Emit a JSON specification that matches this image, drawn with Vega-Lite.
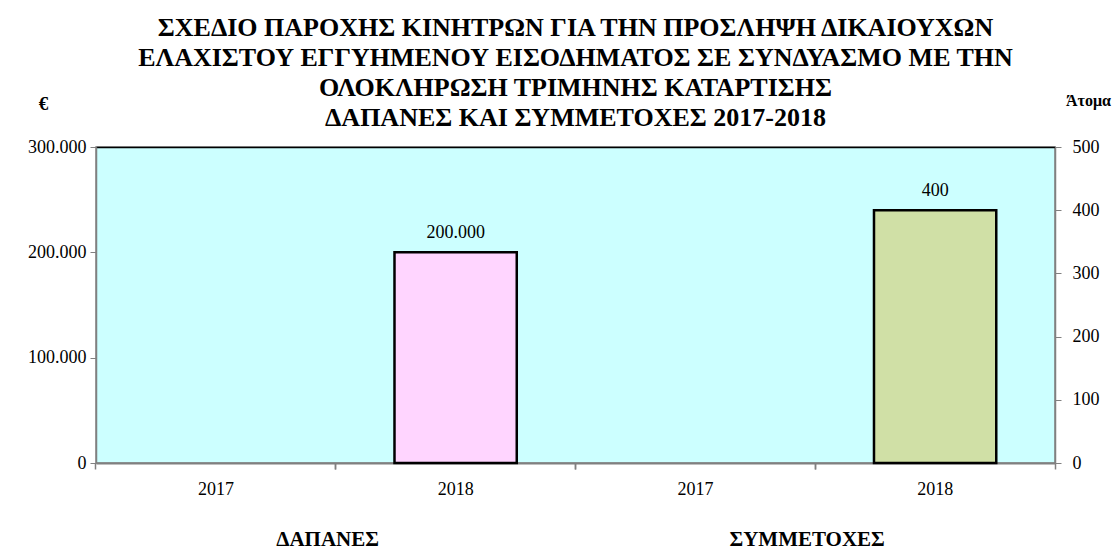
{
  "$schema": "https://vega.github.io/schema/vega-lite/v6.json",
  "width": 959,
  "height": 316,
  "autosize": "none",
  "padding": {"left": 96, "top": 147, "right": 61, "bottom": 86},
  "background": "#ffffff",
  "title": {
    "text": ["ΣΧΕΔΙΟ ΠΑΡΟΧΗΣ ΚΙΝΗΤΡΩΝ ΓΙΑ ΤΗΝ ΠΡΟΣΛΗΨΗ ΔΙΚΑΙΟΥΧΩΝ", "ΕΛΑΧΙΣΤΟΥ ΕΓΓΥΗΜΕΝΟΥ ΕΙΣΟΔΗΜΑΤΟΣ ΣΕ ΣΥΝΔΥΑΣΜΟ ΜΕ ΤΗΝ", "ΟΛΟΚΛΗΡΩΣΗ ΤΡΙΜΗΝΗΣ ΚΑΤΑΡΤΙΣΗΣ", "ΔΑΠΑΝΕΣ ΚΑΙ ΣΥΜΜΕΤΟΧΕΣ 2017-2018"],
    "font": "Liberation Serif",
    "fontSize": 26,
    "fontWeight": "bold",
    "color": "#000000",
    "lineHeight": 30,
    "anchor": "middle",
    "offset": -39
  },
  "data": {
    "values": [
      {"cat": "ΔΑΠΑΝΕΣ 2017", "group": "ΔΑΠΑΝΕΣ", "year": "2017", "expenses": null, "participants": null},
      {"cat": "ΔΑΠΑΝΕΣ 2018", "group": "ΔΑΠΑΝΕΣ", "year": "2018", "expenses": 200000, "participants": null},
      {"cat": "ΣΥΜΜΕΤΟΧΕΣ 2017", "group": "ΣΥΜΜΕΤΟΧΕΣ", "year": "2017", "expenses": null, "participants": null},
      {"cat": "ΣΥΜΜΕΤΟΧΕΣ 2018", "group": "ΣΥΜΜΕΤΟΧΕΣ", "year": "2018", "expenses": null, "participants": 400}
    ]
  },
  "layer": [
    {
      "mark": {"type": "bar", "color": "#FFD5FF", "stroke": "#000000", "strokeWidth": 2.5},
      "encoding": {
        "x": {
          "field": "cat",
          "type": "nominal",
          "sort": null,
          "scale": {"domain": ["ΔΑΠΑΝΕΣ 2017", "ΔΑΠΑΝΕΣ 2018", "ΣΥΜΜΕΤΟΧΕΣ 2017", "ΣΥΜΜΕΤΟΧΕΣ 2018"], "paddingInner": 0.49, "paddingOuter": 0.245},
          "axis": {
            "orient": "bottom",
            "title": null,
            "labelExpr": "slice(datum.value, -4)",
            "labelAngle": 0,
            "ticks": false,
            "domainColor": "#808080",
            "domainWidth": 2,
            "labelPadding": 17,
            "labelFontSize": 18,
            "labelFont": "Liberation Serif",
            "labelColor": "#000000"
          }
        },
        "y": {
          "field": "expenses",
          "type": "quantitative",
          "scale": {"domain": [0, 300000], "nice": false},
          "axis": {
            "orient": "left",
            "values": [0, 100000, 200000, 300000],
            "labelExpr": "replace(format(datum.value, ','), ',', '.')",
            "grid": false,
            "title": "€",
            "titleAngle": 0,
            "titleX": -53,
            "titleY": -44,
            "titleAlign": "center",
            "titleBaseline": "middle",
            "titleFont": "Liberation Serif",
            "titleFontSize": 19,
            "titleFontWeight": "bold",
            "titleColor": "#000000",
            "tickSize": 6,
            "tickColor": "#808080",
            "domainColor": "#808080",
            "domainWidth": 1.5,
            "labelPadding": 4,
            "labelFontSize": 18,
            "labelFont": "Liberation Serif",
            "labelColor": "#000000"
          }
        }
      }
    },
    {
      "transform": [{"filter": "datum.expenses > 0"}, {"calculate": "replace(format(datum.expenses, ','), ',', '.')", "as": "label"}],
      "mark": {"type": "text", "dy": -19, "font": "Liberation Serif", "fontSize": 18, "color": "#000000"},
      "encoding": {
        "x": {
          "field": "cat",
          "type": "nominal",
          "sort": null,
          "scale": {"domain": ["ΔΑΠΑΝΕΣ 2017", "ΔΑΠΑΝΕΣ 2018", "ΣΥΜΜΕΤΟΧΕΣ 2017", "ΣΥΜΜΕΤΟΧΕΣ 2018"], "paddingInner": 0.49, "paddingOuter": 0.245},
          "axis": {
            "orient": "bottom",
            "title": null,
            "bandPosition": -0.4804,
            "labelExpr": "indexof(datum.value, '2018') >= 0 ? split(datum.value, ' ')[0] : ''",
            "labelAngle": 0,
            "labelOffset": -128,
            "domain": false,
            "ticks": true,
            "tickSize": 6,
            "tickColor": "#808080",
            "tickWidth": 1.5,
            "labelPadding": 59,
            "labelFontSize": 21,
            "labelFontWeight": "bold",
            "labelFont": "Liberation Serif",
            "labelColor": "#000000"
          }
        },
        "y": {"field": "expenses", "type": "quantitative", "scale": {"domain": [0, 300000], "nice": false}, "axis": null},
        "text": {"field": "label", "type": "nominal"}
      }
    },
    {
      "mark": {"type": "bar", "color": "#D0E0A6", "stroke": "#000000", "strokeWidth": 2.5},
      "encoding": {
        "x": {
          "field": "cat",
          "type": "nominal",
          "sort": null,
          "scale": {"domain": ["ΔΑΠΑΝΕΣ 2017", "ΔΑΠΑΝΕΣ 2018", "ΣΥΜΜΕΤΟΧΕΣ 2017", "ΣΥΜΜΕΤΟΧΕΣ 2018"], "paddingInner": 0.49, "paddingOuter": 0.245},
          "axis": {
            "orient": "top",
            "title": null,
            "labels": false,
            "ticks": false,
            "domainColor": "#000000",
            "domainWidth": 1.5
          }
        },
        "y": {
          "field": "participants",
          "type": "quantitative",
          "scale": {"domain": [0, 500], "nice": false},
          "axis": {
            "orient": "right",
            "values": [0, 100, 200, 300, 400, 500],
            "format": "d",
            "grid": false,
            "title": "Άτομα",
            "titleAngle": 0,
            "titleX": 33,
            "titleY": -47,
            "titleAlign": "center",
            "titleBaseline": "middle",
            "titleFont": "Liberation Serif",
            "titleFontSize": 16,
            "titleFontWeight": "bold",
            "titleColor": "#000000",
            "tickSize": 6,
            "tickColor": "#808080",
            "domainColor": "#808080",
            "domainWidth": 1.5,
            "labelPadding": 11,
            "labelFontSize": 18,
            "labelFont": "Liberation Serif",
            "labelColor": "#000000"
          }
        }
      }
    },
    {
      "transform": [{"filter": "datum.participants > 0"}],
      "mark": {"type": "text", "dy": -19, "font": "Liberation Serif", "fontSize": 18, "color": "#000000"},
      "encoding": {
        "x": {
          "field": "cat",
          "type": "nominal",
          "sort": null,
          "scale": {"domain": ["ΔΑΠΑΝΕΣ 2017", "ΔΑΠΑΝΕΣ 2018", "ΣΥΜΜΕΤΟΧΕΣ 2017", "ΣΥΜΜΕΤΟΧΕΣ 2018"], "paddingInner": 0.49, "paddingOuter": 0.245},
          "axis": {
            "orient": "bottom",
            "title": null,
            "bandPosition": 1.4804,
            "labels": false,
            "domain": false,
            "ticks": true,
            "tickSize": 6,
            "tickColor": "#808080",
            "tickWidth": 1.5
          }
        },
        "y": {"field": "participants", "type": "quantitative", "scale": {"domain": [0, 500], "nice": false}, "axis": null},
        "text": {"field": "participants", "type": "quantitative", "format": "d"}
      }
    }
  ],
  "resolve": {"scale": {"y": "independent"}, "axis": {"x": "independent", "y": "independent"}},
  "config": {
    "font": "Liberation Serif",
    "view": {"fill": "#CCFFFF", "stroke": "#808080", "strokeWidth": 1.5}
  }
}
